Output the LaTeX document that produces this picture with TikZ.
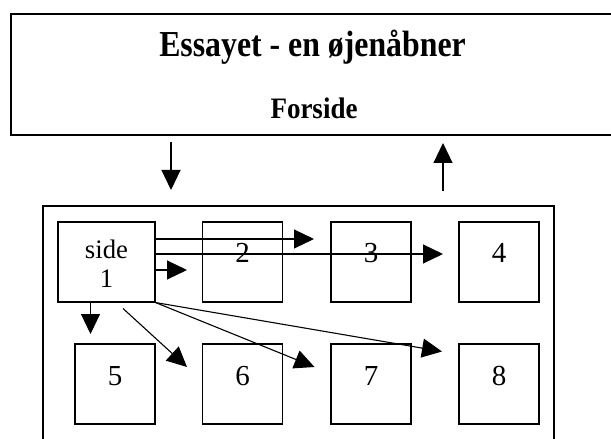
\documentclass[tikz,border=0pt]{standalone}
\usepackage{fontspec}
\setmainfont{Liberation Serif}
\usetikzlibrary{arrows.meta}
\begin{document}
\begin{tikzpicture}[x=1bp,y=-1bp,
  line width=1.1bp,
  pbox/.style={draw, inner sep=0pt, minimum width=80bp, minimum height=80bp},
  num/.style={anchor=base, inner sep=0pt, font=\fontsize{29bp}{31bp}\selectfont},
  sidefont/.style={anchor=base, inner sep=0pt, font=\fontsize{26.7bp}{29bp}\selectfont},
  arr/.style={-{Triangle[length=20bp,width=19bp]}, line width=1.1bp},
  titlefont/.style={anchor=base, inner sep=0pt, font=\fontsize{31.8bp}{36bp}\selectfont\bfseries},
  subfont/.style={anchor=base, inner sep=0pt, font=\fontsize{27bp}{30bp}\selectfont\bfseries}]
\useasboundingbox (0,0) rectangle (611,439);
\clip (0,0) rectangle (611,439);
% top box
\node[draw, inner sep=0pt, minimum width=610bp, minimum height=121bp] (top) at (316,74.5) {};
\node[titlefont] (title) at (312.5,57) {\scalebox{1}[1.15]{Essayet - en øjenåbner}};
\node[subfont] (forside) at (314,118.5) {\scalebox{1}[1.1]{Forside}};
% arrows between
\coordinate (d1) at (171,142);
\coordinate (d2) at (171,190);
\coordinate (u1) at (443,191);
\coordinate (u2) at (443,143);
\draw[arr] (d1) -- (d2);
\draw[arr] (u1) -- (u2);
% frame
\node[draw, inner sep=0pt, minimum width=511bp, minimum height=250bp] (frame) at (298.5,331) {};
% top row
\node[draw, inner sep=0pt, minimum width=97bp, minimum height=80bp] (s1) at (106.5,262) {};
\node[sidefont] (t1a) at (106.5,259) {side};
\node[sidefont] (t1b) at (106.5,288) {1};
\node[pbox] (b2) at (242.5,262) {};
\node[num] (t2) at (242.5,263) {2};
\node[pbox] (b3) at (371,262) {};
\node[num] (t3) at (371,263) {3};
\node[pbox] (b4) at (499,262) {};
\node[num] (t4) at (499,263) {4};
% bottom row
\node[pbox] (b5) at (115,384) {};
\node[num] (t5) at (115,385) {5};
\node[pbox] (b6) at (242.5,384) {};
\node[num] (t6) at (242.5,385) {6};
\node[pbox] (b7) at (371,384) {};
\node[num] (t7) at (371,385) {7};
\node[pbox] (b8) at (499,384) {};
\node[num] (t8) at (499,385) {8};
% arrow ends
\coordinate (e1) at (314,239);
\coordinate (e2) at (443,254);
\coordinate (e3) at (187,270);
\coordinate (e5) at (90.5,334);
\coordinate (e6) at (187,367);
\coordinate (e7) at (314.5,367);
\coordinate (e8) at (442,351.5);
\coordinate (st6) at (123,308.5);
\draw[arr] (s1.east |- e1) -- (e1);
\draw[arr] (s1.east |- e2) -- (e2);
\draw[arr] (s1.east |- e3) -- (e3);
\draw[arr] (s1.south -| e5) -- (e5);
\draw[arr] (st6) -- (e6);
\draw[arr] (s1.south east) -- (e7);
\draw[arr] (s1.south east) -- (e8);
\end{tikzpicture}
\end{document}
